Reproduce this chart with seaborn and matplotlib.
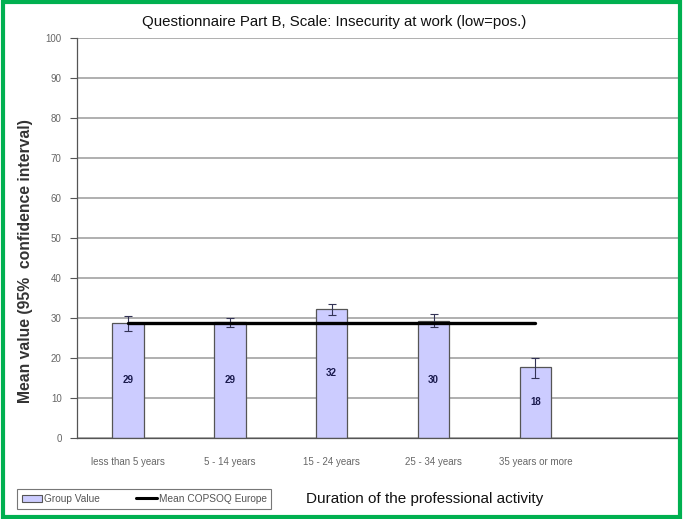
import numpy as np
import pandas as pd
import matplotlib
matplotlib.use("Agg")
import matplotlib.pyplot as plt
import seaborn as sns
from matplotlib.patches import Patch, Rectangle
from matplotlib.lines import Line2D

# Chart data
categories = ["less than 5 years", "5 - 14 years", "15 - 24 years",
              "25 - 34 years", "35 years or more"]
group_values = [28.8, 28.9, 32.3, 29.2, 17.8]
ci_low = [26.8, 27.7, 30.8, 27.7, 14.9]
ci_high = [30.5, 29.9, 33.5, 30.9, 19.9]
bar_labels = ["29", "29", "32", "30", "18"]
europe_mean = 28.8

sns.set_style("white")
plt.rcParams["font.family"] = ["Liberation Sans", "DejaVu Sans"]

df = pd.DataFrame({"Duration": categories, "Value": group_values})

fig = plt.figure(figsize=(6.83, 5.19), dpi=100)
ax = fig.add_axes([77 / 683, 1 - 438 / 519, (680 - 77) / 683, 400 / 519])

# grid first so bars sit on top
ax.set_ylim(0, 100)
ax.set_yticks(np.arange(0, 101, 10))
ax.grid(axis="y", color="#9a9a9a", linewidth=1.1, zorder=0)
ax.set_axisbelow(True)

sns.barplot(data=df, x="Duration", y="Value", color="#ccccff", edgecolor="#555555",
            linewidth=0.9, width=0.31, saturation=1, ax=ax, zorder=2)

x = np.arange(len(categories))
yerr = [np.array(group_values) - np.array(ci_low), np.array(ci_high) - np.array(group_values)]
ax.errorbar(x, group_values, yerr=yerr, fmt="none", ecolor="#333355",
            elinewidth=0.8, capsize=3, capthick=0.8, zorder=3)

ax.plot(x, [europe_mean] * len(x), color="black", linewidth=2.4, zorder=4)

for xi, v, lab in zip(x, group_values, bar_labels):
    ax.text(xi, v / 2, lab, ha="center", va="center", fontsize=7,
            fontweight="bold", color="#1a1a4d", zorder=5)

ax.set_xlim(-0.5, 5.42)
ax.set_xticks(x)
ax.set_xticklabels(categories, fontsize=7, color="#666666")
ax.set_xticks(np.arange(0.5, 4.6, 1), minor=True)
ax.tick_params(axis="x", which="major", length=0, pad=14)
ax.tick_params(axis="x", which="minor", length=4, color="#555555", direction="out")
ax.tick_params(axis="y", labelsize=7, labelcolor="#666666", length=5,
               color="#555555", direction="out", left=True, pad=6)

for s in ["top", "right"]:
    ax.spines[s].set_visible(False)
ax.spines["left"].set_color("#555555")
ax.spines["bottom"].set_color("#555555")
ax.spines["left"].set_linewidth(0.9)
ax.spines["bottom"].set_linewidth(0.9)

ax.set_xlabel("")
ax.set_ylabel("")

fig.text(334 / 683, 1 - 22 / 519, "Questionnaire Part B, Scale: Insecurity at work (low=pos.)",
         ha="center", va="center", fontsize=10.8, color="#111111")
fig.text(26 / 683, 1 - 261 / 519, "Mean value (95%  confidence interval)", rotation=90,
         ha="center", va="center", fontsize=11.3, fontweight="bold", color="#333333")
fig.text(425 / 683, 1 - 499 / 519, "Duration of the professional activity",
         ha="center", va="center", fontsize=11, color="#111111")

handles = [Patch(facecolor="#ccccff", edgecolor="#555555", linewidth=0.8),
           Line2D([0], [0], color="black", linewidth=2.2)]
leg = fig.legend(handles, ["Group Value", "Mean COPSOQ Europe"], ncol=2,
                 loc="center left", bbox_to_anchor=(17 / 683, 1 - 499 / 519),
                 fontsize=7.3, frameon=True, fancybox=False, edgecolor="#555555",
                 handlelength=2.0, handletextpad=0.2, columnspacing=3.6,
                 borderpad=0.45, borderaxespad=0)
leg.get_frame().set_linewidth(0.8)
for t in leg.get_texts():
    t.set_color("#555555")

# green frame round the whole picture
fig.patches.append(Rectangle((0.004, 0.004), 0.992, 0.992, transform=fig.transFigure,
                             fill=False, edgecolor="#00b050", linewidth=3))

fig.savefig("out.png", dpi=100)
